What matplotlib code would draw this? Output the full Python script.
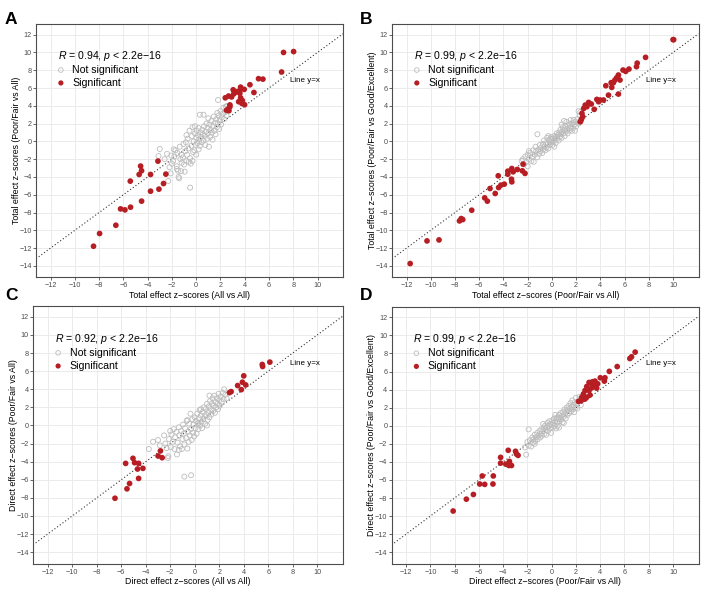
import matplotlib
matplotlib.use("Agg")
import matplotlib.pyplot as plt
import numpy as np

plt.rcParams['font.family'] = ['Liberation Sans', 'DejaVu Sans']
plt.rcParams['mathtext.fontset'] = 'custom'
plt.rcParams['mathtext.rm'] = 'Liberation Sans'
plt.rcParams['mathtext.it'] = 'Liberation Sans:italic'
plt.rcParams['axes.unicode_minus'] = True

# ---------------- data ----------------
# Panel A: Total effect, All vs All (x) vs Poor/Fair vs All (y)
a_sig_x = [7.2, 8.03, 7.04, 5.14, 5.5, 4.43, 4.76, 3.66, 3.66, 3.6, 3.05, 3.2, 2.4, 2.67, 2.92, 3.1, 3.38,
           3.96, 3.5, 3.66, 3.77, 3.99, 3.8, 2.5, 2.67, 2.78, 2.78, 2.7,
           -4.58, -4.5, -4.7, -5.43, -3.15, -3.76, -2.5, -2.69, -3.76, -3.07, -4.5, -6.23, -5.87, -5.41,
           -6.62, -7.96, -8.46]
a_sig_y = [10.0, 10.1, 7.8, 7.05, 7.0, 6.37, 5.5, 6.1, 5.85, 5.4, 5.8, 5.5, 4.9, 5.1, 5.0, 5.35, 5.6,
           5.85, 4.46, 4.9, 4.27, 4.12, 4.6, 3.5, 3.7, 4.1, 3.9, 3.45,
           -2.78, -3.3, -3.72, -4.47, -2.22, -3.72, -3.68, -4.74, -5.6, -5.37, -6.72, -7.59, -7.7, -7.4,
           -9.43, -10.36, -11.79]
a_ns = [(-3.0, -0.85), (-3.1, -1.65), (-2.6, -2.0), (-2.4, -1.4), (-2.3, -4.45), (-2.1, -3.6), (-2.0, -2.5),
        (-2.05, -1.6), (-1.9, -2.2), (-1.85, -0.9), (-1.8, -1.7), (-1.7, -1.0), (-1.6, -2.8), (-1.55, -1.3),
        (-1.5, -3.3), (-1.45, -4.0), (-1.4, -4.15), (-1.35, -0.6), (-1.3, -2.0), (-1.25, -3.35), (-1.2, -1.5),
        (-1.1, -1.8), (-1.05, -0.3), (-1.0, -2.6), (-0.95, -3.4), (-0.9, -1.1), (-0.85, -0.1), (-0.8, -2.2),
        (-0.75, -1.5), (-0.7, 0.3), (-0.65, -0.8), (-0.6, -2.3), (-0.55, 1.2), (-0.5, -1.9), (-0.5, -5.2),
        (-0.45, -2.5), (-0.4, -0.5), (-0.35, 0.6), (-0.3, -2.2), (-0.3, 1.6), (-0.25, -1.2), (-0.2, 0.0),
        (-0.15, -1.0), (-0.1, 0.9), (-0.05, -0.4), (0.0, 0.4), (0.0, -1.5), (0.05, 1.2), (0.1, -0.2),
        (0.15, 0.7), (0.2, -0.9), (0.2, 1.5), (0.25, 0.2), (0.3, -0.5), (0.35, 1.0), (0.4, 0.5), (0.45, -0.1),
        (0.5, 1.3), (0.55, 0.8), (0.6, 3.0), (0.6, 0.1), (0.65, 1.7), (0.7, 0.6), (0.75, -0.4), (0.8, 1.1),
        (0.85, 2.0), (0.9, 0.3), (0.95, 1.5), (1.0, 0.9), (1.0, 2.6), (1.05, -0.6), (1.1, 1.9), (1.15, 0.5),
        (1.2, 1.3), (1.25, 2.3), (1.3, 1.0), (1.35, 0.2), (1.4, 1.7), (1.45, 2.8), (1.5, 1.2), (1.55, 2.1),
        (1.6, 0.8), (1.65, 2.5), (1.7, 1.6), (1.75, 3.2), (1.8, 4.65), (1.8, 2.0), (1.85, 2.9), (1.9, 1.4),
        (1.95, 2.4), (2.0, 3.4), (2.05, 1.9), (2.1, 2.7), (2.2, 3.1), (2.25, 3.8), (2.3, 2.5), (2.4, 3.3),
        (2.45, 3.9), (2.5, 2.9), (2.55, 4.0), (0.3, 3.0), (-0.1, 1.7), (-0.8, 0.7), (-2.2, -2.9),
        (-1.6, -3.1), (-1.2, -2.4)]

# Panel B: Total effect, Poor/Fair vs All (x) vs Poor/Fair vs Good/Excellent (y)
b_sig_x = [10.0, 10.05, 7.73, 7.04, 6.98, 6.36, 6.09, 5.87, 5.49, 5.35, 5.62, 5.2, 5.08, 4.89, 4.94, 4.45,
           4.67, 5.49, 3.98, 3.71, 4.26, 3.85, 3.49, 3.03, 3.25, 2.75, 2.89, 2.62, 2.48, 2.54, 2.34, 2.43,
           -2.38, -2.44, -2.22, -3.2, -3.31, -3.64, -3.64, -2.85, -3.34, -3.31, -4.43, -3.93, -4.21, -4.4,
           -5.11, -4.68, -5.55, -5.33, -6.62, -7.49, -7.63, -7.36, -9.32, -10.31, -11.7]
b_sig_y = [11.44, 11.44, 9.45, 8.8, 8.4, 8.13, 7.87, 8.02, 7.46, 7.16, 6.9, 6.9, 6.6, 6.6, 6.07, 6.26,
           5.2, 5.32, 4.65, 4.72, 4.65, 4.46, 3.6, 4.38, 4.2, 4.08, 3.9, 3.7, 3.15, 2.77, 2.2, 2.47,
           -2.56, -3.31, -3.6, -3.42, -3.05, -3.35, -3.69, -3.16, -4.25, -4.55, -3.87, -4.81, -4.92, -5.19,
           -5.3, -5.86, -6.35, -6.72, -7.74, -8.68, -8.94, -8.79, -11.08, -11.19, -13.74]
b_ns = [(-2.4, -2.0), (-2.3, -2.6), (-2.2, -1.7), (-2.1, -2.3), (-2.0, -1.5), (-2.0, -2.8), (-1.9, -2.0),
        (-1.8, -1.3), (-1.7, -2.2), (-1.6, -1.7), (-1.55, -1.0), (-1.5, -2.3), (-1.4, -1.5), (-1.35, -0.6),
        (-1.3, -1.1), (-1.2, -1.8), (-1.2, 0.8), (-1.1, -0.9), (-1.05, -1.4), (-1.0, -0.4), (-0.95, -1.1),
        (-0.9, -0.7), (-0.8, -1.3), (-0.75, -0.3), (-0.7, -0.9), (-0.65, 0.1), (-0.6, -0.6), (-0.55, -1.0),
        (-0.5, -0.2), (-0.45, -0.7), (-0.4, 0.4), (-0.35, -0.3), (-0.3, -0.8), (-0.25, 0.1), (-0.2, -0.4),
        (-0.15, 0.3), (-0.1, -0.1), (-0.05, 0.5), (0.0, 0.0), (0.05, -0.4), (0.1, 0.3), (0.15, 0.0),
        (0.2, 0.6), (0.25, 0.2), (0.3, -0.2), (0.35, 0.5), (0.4, 0.9), (0.45, 0.3), (0.5, 0.7), (0.55, 0.1),
        (0.6, 1.0), (0.65, 0.5), (0.7, 1.3), (0.75, 0.8), (0.8, 0.4), (0.85, 1.1), (0.9, 1.6), (0.95, 0.9),
        (1.0, 1.3), (1.05, 0.6), (1.1, 1.7), (1.15, 1.1), (1.2, 2.2), (1.25, 1.4), (1.3, 0.9), (1.35, 1.8),
        (1.4, 1.2), (1.45, 2.0), (1.5, 1.5), (1.55, 2.4), (1.6, 1.7), (1.65, 1.2), (1.7, 2.1), (1.75, 1.5),
        (1.8, 2.4), (1.85, 1.9), (1.9, 1.2), (1.95, 2.2), (2.0, 1.7), (2.1, 2.5), (2.2, 2.0), (2.3, 2.9),
        (2.35, 3.3), (2.4, 2.3), (0.2, -0.6), (-0.3, 0.6), (0.8, 1.9), (1.0, 2.3), (-1.9, -1.1), (-2.5, -2.2),
        (2.2, 3.4)]

# Panel C: Direct effect, All vs All (x) vs Poor/Fair vs All (y)
c_sig_x = [6.13, 5.51, 5.54, 4.0, 3.89, 4.16, 3.5, 3.8, 2.97, 2.83,
           -2.8, -2.99, -2.66, -5.04, -4.91, -4.58, -5.64, -4.23, -4.67, -4.58, -5.32, -5.53, -6.51]
c_sig_y = [7.0, 6.74, 6.52, 5.48, 4.78, 4.48, 4.41, 3.96, 3.74, 3.63,
           -2.81, -3.37, -3.56, -3.63, -4.11, -4.19, -4.19, -4.74, -4.81, -5.85, -6.41, -7.0, -8.04]
c_ns = [(-3.75, -2.6), (-3.4, -1.8), (-3.0, -1.6), (-2.85, -2.2), (-2.5, -1.1), (-2.4, -2.0), (-2.2, -3.6),
        (-2.15, -3.4), (-2.1, -1.5), (-2.0, -0.6), (-1.95, -2.4), (-1.9, -1.0), (-1.8, -1.8), (-1.7, -0.4),
        (-1.65, -2.6), (-1.6, -1.3), (-1.5, -0.7), (-1.45, -3.2), (-1.4, -1.9), (-1.3, -0.2), (-1.25, -1.1),
        (-1.2, -2.3), (-1.1, -0.6), (-1.05, -2.6), (-1.0, -1.5), (-0.95, 0.1), (-0.9, -0.9), (-0.85, -5.65),
        (-0.85, -2.1), (-0.8, -0.3), (-0.7, -1.4), (-0.65, 0.5), (-0.6, -2.55), (-0.55, -0.7), (-0.5, -1.8),
        (-0.45, 0.2), (-0.4, -1.1), (-0.35, 1.3), (-0.3, -5.5), (-0.3, -0.4), (-0.25, -1.6), (-0.2, 0.7),
        (-0.15, -0.8), (-0.1, 0.1), (-0.05, -1.2), (0.0, 0.9), (0.05, -0.3), (0.1, 0.5), (0.15, -0.9),
        (0.2, 1.3), (0.25, 0.2), (0.3, -0.4), (0.35, 0.8), (0.4, 1.7), (0.45, 0.0), (0.5, 1.1), (0.55, 0.4),
        (0.6, -0.3), (0.65, 1.5), (0.7, 0.7), (0.75, 2.0), (0.8, 1.0), (0.85, 0.2), (0.9, 1.8), (0.95, 1.2),
        (1.0, 2.4), (1.05, 0.6), (1.1, 1.5), (1.15, 2.1), (1.2, 0.9), (1.25, 2.7), (1.3, 1.8), (1.35, 1.2),
        (1.4, 2.4), (1.45, 3.0), (1.5, 1.6), (1.55, 2.2), (1.6, 3.3), (1.65, 1.4), (1.7, 2.6), (1.75, 2.0),
        (1.8, 3.0), (1.85, 2.4), (1.9, 1.8), (1.95, 3.5), (2.0, 2.8), (2.05, 2.2), (2.1, 3.2), (2.2, 2.6),
        (2.3, 3.6), (2.35, 2.9), (2.4, 4.0), (2.5, 3.4), (2.6, 3.0), (0.5, 1.8), (-0.6, 0.6), (1.2, 3.3),
        (-1.3, -2.7), (-2.3, -2.5), (1.0, 0.0), (0.3, 0.3)]

# Panel D: Direct effect, Poor/Fair vs All (x) vs Poor/Fair vs Good/Excellent (y)
d_sig_x = [6.88, 6.58, 6.44, 5.4, 4.75, 4.01, 4.39, 4.34, 3.57, 3.36, 3.08, 3.22, 3.79, 3.52, 3.71, 2.89,
           3.3, 2.75, 3.08, 2.62, 2.89, 3.16, 2.48, 2.43, 2.75, 2.21,
           -3.58, -2.98, -2.9, -2.77, -4.21, -4.21, -3.78, -3.48, -3.31, -3.53, -4.81, -4.84, -5.72, -5.93,
           -5.52, -6.45, -7.03, -8.12]
d_sig_y = [8.15, 7.63, 7.44, 6.55, 6.02, 5.31, 5.31, 4.94, 4.94, 4.87, 4.79, 4.72, 4.64, 4.45, 4.16, 4.34,
           4.19, 3.9, 3.9, 3.52, 3.15, 3.4, 3.15, 2.77, 2.96, 2.7,
           -2.72, -2.83, -3.13, -3.28, -3.5, -4.14, -4.25, -3.95, -4.4, -4.4, -5.56, -6.45, -5.56, -6.45,
           -6.49, -7.61, -8.13, -9.44]
d_ns = [(-2.2, -2.4), (-2.1, -3.2), (-2.0, -1.8), (-1.9, -0.4), (-1.9, -2.2), (-1.8, -1.6), (-1.7, -2.3),
        (-1.6, -1.3), (-1.55, -1.9), (-1.5, -1.5), (-1.4, -1.0), (-1.35, -1.7), (-1.3, -1.3), (-1.2, -0.8),
        (-1.15, -1.5), (-1.1, -1.1), (-1.0, -0.6), (-0.95, -1.3), (-0.9, -0.9), (-0.85, -0.4), (-0.8, -1.1),
        (-0.7, -0.6), (-0.65, -0.2), (-0.6, -0.9), (-0.55, 0.0), (-0.5, -0.5), (-0.45, -1.0), (-0.4, -0.2),
        (-0.35, 0.3), (-0.3, -0.6), (-0.25, 0.0), (-0.2, 0.5), (-0.15, -0.3), (-0.1, 0.2), (-0.05, -0.8),
        (0.0, 0.1), (0.05, 0.6), (0.1, -0.2), (0.15, 0.3), (0.2, 0.8), (0.25, 0.0), (0.3, 0.5), (0.35, -0.3),
        (0.4, 0.9), (0.45, 0.4), (0.5, 0.0), (0.55, 0.8), (0.6, 1.2), (0.65, 0.5), (0.7, 0.9), (0.75, 1.4),
        (0.8, 0.7), (0.85, 1.1), (0.9, 0.4), (0.95, 1.5), (1.0, 1.0), (1.05, 1.8), (1.1, 1.3), (1.15, 0.8),
        (1.2, 1.6), (1.25, 2.0), (1.3, 1.2), (1.35, 1.7), (1.4, 2.2), (1.45, 1.4), (1.5, 1.9), (1.55, 2.5),
        (1.6, 1.6), (1.65, 2.1), (1.7, 2.8), (1.75, 1.8), (1.8, 2.3), (1.85, 1.5), (1.9, 2.6), (1.95, 2.0),
        (2.0, 3.1), (2.05, 2.4), (2.1, 1.9), (2.2, 2.7), (2.3, 3.2), (2.4, 2.3), (2.5, 2.9), (-0.7, 0.2),
        (0.3, 1.2), (1.0, 0.3), (-1.4, -2.0), (0.6, -0.2)]

panel_letters = ["A", "B", "C", "D"]
r_values = ["0.94", "0.99", "0.92", "0.99"]
x_labels = ["Total effect z\u2212scores (All vs All)",
            "Total effect z\u2212scores (Poor/Fair vs All)",
            "Direct effect z\u2212scores (All vs All)",
            "Direct effect z\u2212scores (Poor/Fair vs All)"]
y_labels = ["Total effect z\u2212scores (Poor/Fair vs All)",
            "Total effect z\u2212scores (Poor/Fair vs Good/Excellent)",
            "Direct effect z\u2212scores (Poor/Fair vs All)",
            "Direct effect z\u2212scores (Poor/Fair vs Good/Excellent)"]
x_ticks = [-12, -10, -8, -6, -4, -2, 0, 2, 4, 6, 8, 10]
y_ticks = [-14, -12, -10, -8, -6, -4, -2, 0, 2, 4, 6, 8, 10, 12]
legend_labels = ["Not significant", "Significant"]

sig_data = [(a_sig_x, a_sig_y), (b_sig_x, b_sig_y), (c_sig_x, c_sig_y), (d_sig_x, d_sig_y)]
ns_data = [a_ns, b_ns, c_ns, d_ns]

# ---------------- layout ----------------
W, H = 704, 589
fig = plt.figure(figsize=(W / 100, H / 100), dpi=100)
fig.patch.set_facecolor("white")

# pixel boxes: left, top, right, bottom
boxes = [(36, 24, 343, 277), (392, 24, 698.5, 277), (33, 306, 343, 563.5), (391.5, 306.5, 698.5, 563.5)]
letter_pos = [(11, 19), (366, 19), (11, 296), (366, 296)]

RED = "#B71E24"
GREY = "#BDBDBD"
XLIM = (-13.2, 12.1)
YLIM = (-15.25, 13.2)

for i in range(4):
    l, t, r, b = boxes[i]
    ax = fig.add_axes([l / W, 1 - b / H, (r - l) / W, (b - t) / H])
    ax.set_xlim(*XLIM)
    ax.set_ylim(*YLIM)
    ax.set_xticks(x_ticks)
    ax.set_yticks(y_ticks)
    ax.grid(True, color="#EBEBEB", linewidth=0.7, zorder=0)
    ax.set_axisbelow(True)
    for s in ax.spines.values():
        s.set_color("#4D4D4D")
        s.set_linewidth(0.8)
    ax.tick_params(axis="both", labelsize=5.2, colors="#4D4D4D", length=2.2, width=0.6)
    ax.tick_params(axis="x", pad=1.5)
    ax.tick_params(axis="y", pad=0.8)

    # y = x line
    xs = np.array(XLIM)
    ax.plot(xs, xs, linestyle=(0, (1, 2.0)), color="#333333", linewidth=0.8, zorder=2)

    ns = np.array(ns_data[i])
    ax.scatter(ns[:, 0], ns[:, 1], s=13, facecolors="none", edgecolors=GREY, linewidths=0.6, zorder=3)
    sx, sy = sig_data[i]
    ax.scatter(sx, sy, s=17, color=RED, edgecolors="none", zorder=4)

    ax.set_xlabel(x_labels[i], fontsize=6.3, labelpad=1.2)
    ax.set_ylabel(y_labels[i], fontsize=6.3, labelpad=-1.0)

    # annotation text
    ann = "$R$ = " + r_values[i] + ", $p$ < 2.2e\u221216"
    ax.text(0.071, 0.873, ann, transform=ax.transAxes, fontsize=7.6, ha="left", va="center", zorder=5)
    ax.scatter([0.081], [0.818], transform=ax.transAxes, s=11, facecolors="none",
               edgecolors=GREY, linewidths=0.6, zorder=5, clip_on=False)
    ax.scatter([0.081], [0.767], transform=ax.transAxes, s=14, color=RED,
               edgecolors="none", zorder=5, clip_on=False)
    ax.text(0.118, 0.818, legend_labels[0], transform=ax.transAxes, fontsize=7.6,
            ha="left", va="center", zorder=5)
    ax.text(0.118, 0.767, legend_labels[1], transform=ax.transAxes, fontsize=7.6,
            ha="left", va="center", zorder=5)
    ax.text(9.0, 6.9, "Line y=x", fontsize=5.8, ha="center", va="center", zorder=5)

    lx, ly = letter_pos[i]
    fig.text(lx / W, 1 - ly / H, panel_letters[i], fontsize=12.5, fontweight="bold",
             ha="center", va="center")

fig.savefig("out.png", dpi=100, facecolor="white")
